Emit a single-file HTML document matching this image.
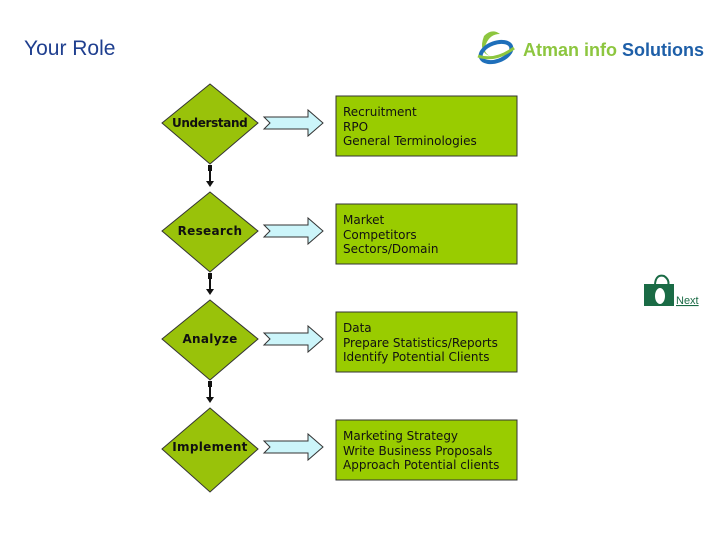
<!DOCTYPE html>
<html><head><meta charset="utf-8"><style>
body{margin:0;background:#fff;}
svg{display:block;}
.t{font-family:"DejaVu Sans","Liberation Sans",sans-serif;font-size:12px;fill:#111;}
.d{font-family:"DejaVu Sans","Liberation Sans",sans-serif;font-size:12px;font-weight:bold;fill:#111;letter-spacing:0.3px;}
</style></head><body>
<svg width="720" height="540" viewBox="0 0 720 540" xmlns="http://www.w3.org/2000/svg">
<text x="24" y="55" font-family="Liberation Sans, sans-serif" font-size="21" fill="#1f3f8f">Your Role</text>
<g>
<path d="M484 36 Q492 28 500 34 Q490 34 486 44 Q482 52 490 56 Q478 52 484 36Z" fill="#8dc63f"/>
<ellipse cx="496" cy="52" rx="16" ry="9" fill="none" stroke="#1e6fba" stroke-width="4" transform="rotate(-20 496 52)"/>
<path d="M478 56 Q495 62 514 48" stroke="#8dc63f" stroke-width="3" fill="none"/>
<text x="523" y="56" font-family="Liberation Sans, sans-serif" font-weight="bold" font-size="18" fill="#8dc63f">Atman info <tspan fill="#1e5fa8">Solutions</tspan></text>
</g>
<g stroke="#333" stroke-width="1">
<polygon points="210,84 258,123 210,164 162,123" fill="#99c20a"/>
<polygon points="210,192 258,231 210,272 162,231" fill="#99c20a"/>
<polygon points="210,300 258,339 210,380 162,339" fill="#99c20a"/>
<polygon points="210,408 258,449 210,492 162,449" fill="#99c20a"/>
<rect x="336" y="96" width="181" height="60" fill="#99cc00"/>
<rect x="336" y="204" width="181" height="60" fill="#99cc00"/>
<rect x="336" y="312" width="181" height="60" fill="#99cc00"/>
<rect x="336" y="420" width="181" height="60" fill="#99cc00"/>
<path d="M264,117 L308,117 L308,110 L323,123 L308,136 L308,129 L264,129 L270,123Z" fill="#ccf5fa"/>
<path d="M264,225 L308,225 L308,218 L323,231 L308,244 L308,237 L264,237 L270,231Z" fill="#ccf5fa"/>
<path d="M264,333 L308,333 L308,326 L323,339 L308,352 L308,345 L264,345 L270,339Z" fill="#ccf5fa"/>
<path d="M264,441 L308,441 L308,434 L323,447 L308,460 L308,453 L264,453 L270,447Z" fill="#ccf5fa"/>
</g>
<g fill="#111" stroke="#111" stroke-width="2">
<rect x="208" y="165" width="4" height="6" stroke="none"/><line x1="210" y1="170" x2="210" y2="182"/><polygon points="206,181 214,181 210,187" stroke="none"/>
<rect x="208" y="273" width="4" height="6" stroke="none"/><line x1="210" y1="278" x2="210" y2="290"/><polygon points="206,289 214,289 210,295" stroke="none"/>
<rect x="208" y="381" width="4" height="6" stroke="none"/><line x1="210" y1="386" x2="210" y2="398"/><polygon points="206,397 214,397 210,403" stroke="none"/>
</g>
<text class="d" x="210" y="127" text-anchor="middle" textLength="76">Understand</text>
<text class="d" x="210" y="235" text-anchor="middle">Research</text>
<text class="d" x="210" y="343" text-anchor="middle">Analyze</text>
<text class="d" x="210" y="451" text-anchor="middle">Implement</text>
<g class="t">
<text x="343" y="116">Recruitment</text><text x="343" y="131">RPO</text><text x="343" y="145">General Terminologies</text>
<text x="343" y="224">Market</text><text x="343" y="239">Competitors</text><text x="343" y="253">Sectors/Domain</text>
<text x="343" y="332">Data</text><text x="343" y="347">Prepare Statistics/Reports</text><text x="343" y="361">Identify Potential Clients</text>
<text x="343" y="440">Marketing Strategy</text><text x="343" y="455">Write Business Proposals</text><text x="343" y="469">Approach Potential clients</text>
</g>
<rect x="644" y="284" width="30" height="22" fill="#1a6b45"/>
<path d="M655 284 Q656 274 664 276 Q670 280 668 286" stroke="#1a6b45" stroke-width="2" fill="none"/>
<ellipse cx="660" cy="296" rx="5" ry="8" fill="#fff"/>
<text x="676" y="304" font-family="Liberation Sans, sans-serif" font-size="11" fill="#1a6b45" text-decoration="underline">Next</text>
</svg>
</body></html>
